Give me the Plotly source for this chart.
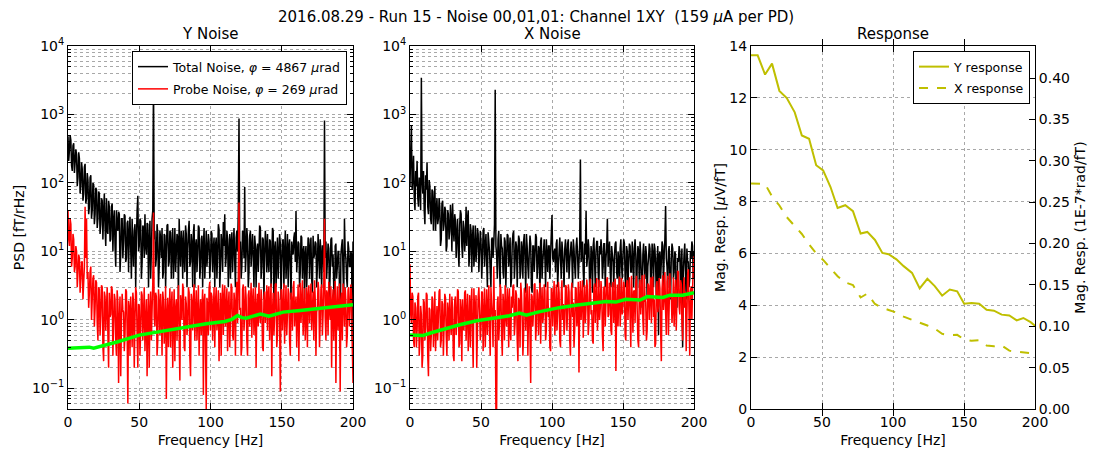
import plotly.graph_objects as go

# ---------------- data ----------------
# spectra sampled every 0.5 Hz, 0 .. 200 Hz
freq = [k / 2 for k in range(401)]

y_total = [
    480, 210, 300, 500, 420, 180, 150, 350, 380, 140, 200, 310, 260, 90, 120, 280, 230, 70, 90, 200,
    160, 55, 70, 170, 190, 50, 60, 140, 110, 35, 45, 120, 130, 30, 40, 100, 95, 25, 35, 85,
    80, 22, 30, 75, 70, 18, 25, 60, 55, 15, 40, 70, 22, 12, 60, 20, 18, 55, 45, 14,
    15, 45, 50, 10, 28, 40, 12, 6, 40, 25, 20, 38, 35, 5, 9, 30, 30, 8, 14, 35,
    33, 7, 8, 26, 28, 5, 18, 32, 11, 4, 30, 12, 6, 20, 25, 3, 15, 40, 65, 10,
    12, 30, 28, 4, 7, 24, 22, 8, 35, 12, 9, 26, 25, 3, 14, 28, 4, 10, 30, 40,
    3500, 15, 20, 6, 8, 25, 18, 3, 6, 20, 15, 8, 22, 4, 5, 18, 17, 3, 10, 24,
    25, 6, 7, 20, 19, 4, 12, 22, 4, 9, 22, 5, 9, 18, 16, 2, 30, 12, 6, 20,
    14, 4, 20, 9, 5, 24, 18, 3, 11, 20, 28, 6, 7, 18, 13, 3, 19, 25, 3, 12,
    15, 5, 9, 24, 22, 4, 6, 15, 17, 3, 12, 22, 4, 8, 20, 6, 10, 18, 14, 4,
    7, 20, 18, 5, 11, 16, 3, 12, 16, 4, 9, 25, 21, 3, 6, 18, 13, 5, 27, 12,
    35, 6, 8, 20, 15, 3, 10, 18, 4, 14, 19, 5, 12, 22, 7, 3, 16, 20, 10, 40,
    870, 12, 14, 4, 6, 20, 18, 8, 87, 5, 9, 22, 15, 3, 5, 17, 20, 6, 11, 18,
    8, 3, 17, 12, 3, 10, 13, 5, 10, 24, 22, 4, 6, 16, 15, 2, 9, 20, 12, 5,
    18, 7, 5, 15, 14, 3, 8, 22, 20, 1.5, 11, 14, 3, 8, 16, 4, 9, 18, 13, 2,
    7, 14, 15, 3, 10, 20, 4, 8, 18, 3, 12, 15, 6, 2, 14, 10, 9, 16, 19, 7,
    39, 5, 8, 14, 13, 3, 5, 17, 16, 4, 10, 12, 2, 9, 12, 3, 7, 16, 15, 4,
    11, 16, 4, 2.5, 17, 8, 9, 14, 13, 3, 6, 18, 10, 4, 15, 9, 3, 12, 12, 5,
    815, 8, 14, 4, 7, 13, 11, 2, 5, 15, 16, 6, 9, 3, 0.8, 12, 13, 4, 6, 10,
    10, 3, 0.35, 9, 12, 15, 5, 2, 30, 10, 8, 4, 3, 14, 11, 6, 6, 10, 9, 0.5,
    14]

y_probe = [
    40, 15, 12, 30, 25, 6, 8, 18, 15, 5, 6, 12, 10, 3, 5, 9, 8, 2.5, 4, 7,
    7, 2, 3.5, 6, 45, 8, 30, 4, 5, 1.5, 2.5, 5, 6, 1, 2, 4, 4.5, 0.8, 1.5, 3.8,
    3.5, 0.9, 0.5, 3, 2.8, 0.6, 1.2, 3.2, 3, 0.4, 0.25, 2.6, 2.2, 0.7, 1.5, 3, 0.6, 0.2, 2.5, 1.1,
    1.2, 3.1, 2.8, 0.3, 0.8, 2.4, 2, 0.5, 0.3, 2.7, 1.8, 0.12, 1, 2.2, 0.15, 0.9, 2.4, 1.4, 1.3, 0.35,
    0.6, 2.8, 2.6, 0.7, 0.06, 1.9, 1.5, 0.3, 2.2, 1.1, 0.4, 2.5, 1.8, 0.2, 1, 3, 2.5, 0.6, 0.2, 1.7,
    1.6, 0.3, 0.7, 2.6, 2.3, 0.5, 1.2, 3, 0.35, 0.9, 2, 0.15, 1, 2.4, 0.2, 1.3, 2.6, 0.5, 1.4, 3.5,
    37, 1.1, 0.8, 2.5, 2.2, 0.3, 0.5, 2.8, 1.7, 0.6, 2.4, 1.2, 0.3, 2.6, 1.9, 0.45, 0.9, 3.1, 0.07, 1.2,
    2.1, 0.4, 1.3, 2.9, 0.4, 1.6, 2.6, 0.2, 1.1, 2.8, 0.25, 1.4, 2, 0.5, 1.5, 3.2, 0.6, 0.13, 2.3, 1.7,
    1, 3.4, 2.8, 0.4, 0.35, 2.2, 1.7, 0.6, 0.9, 3, 2.5, 0.3, 0.15, 2.4, 1.8, 0.7, 2.2, 3.3, 0.5, 1.3,
    2.7, 0.5, 1.2, 3.2, 0.3, 1.1, 2, 0.6, 1.5, 2.8, 0.08, 1.9, 2.4, 0.4, 0.05, 2.1, 1.6, 0.6, 2.9, 3.6,
    0.7, 2.5, 2.2, 0.5, 1.3, 3, 0.4, 1.8, 3, 0.7, 1.1, 2.7, 0.25, 0.9, 2.5, 0.3, 1.7, 3.3, 0.6, 2.1,
    3.2, 0.8, 1.4, 2.9, 0.35, 1.6, 2.6, 0.4, 1, 3.4, 2.9, 0.6, 0.5, 2.5, 1.8, 0.3, 2.4, 3.6, 0.9, 4,
    52, 1.4, 1.5, 0.3, 0.4, 2.8, 3.3, 0.7, 1.2, 3.1, 2.1, 0.5, 0.3, 2.3, 2.7, 0.8, 1.6, 3.5, 0.55, 1.9,
    2.9, 0.6, 1.3, 3, 0.2, 1.5, 2.4, 0.8, 3.5, 1.2, 0.9, 2.8, 1.8, 0.4, 0.35, 2.2, 2.6, 0.9, 1.4, 3.2,
    0.7, 2.4, 3.1, 0.5, 1.6, 3.4, 0.15, 1.3, 2.5, 0.6, 1.1, 3.3, 3.4, 0.4, 0.6, 2.6, 2, 0.8, 0.09, 2.7,
    2.8, 0.7, 1.5, 3.4, 0.45, 1.3, 3.2, 0.6, 1.2, 2.9, 2.4, 0.5, 0.3, 2.5, 1.9, 0.7, 3, 3.7, 0.8, 1.5,
    2.2, 0.4, 1.4, 3.3, 0.25, 1.6, 3.5, 0.9, 1.7, 3.8, 0.6, 1.2, 2.9, 0.5, 1.1, 3, 0.4, 2.2, 3.2, 0.9,
    1.8, 3.4, 0.7, 1.4, 2.6, 0.5, 3.8, 2, 0.3, 1.3, 1.5, 3.6, 2.7, 0.4, 0.9, 2.8, 3.3, 0.6, 1.2, 3.5,
    30, 1.1, 0.5, 2.7, 2.4, 0.6, 3.6, 1.4, 1, 3.1, 0.2, 1.7, 2.8, 0.5, 1.6, 3.7, 0.12, 1.5, 3.1, 0.7,
    1.3, 3.4, 0.09, 1.8, 2.5, 0.5, 3.4, 2.2, 0.8, 3, 1.9, 0.4, 0.6, 2.7, 3, 0.8, 1.4, 3.3, 2.2, 0.4,
    0.12]

x_total = [
    90, 300, 700, 80, 120, 250, 60, 40, 150, 90, 210, 60, 45, 120, 100, 40, 3450, 110, 70, 150,
    40, 25, 130, 80, 200, 45, 35, 110, 90, 30, 25, 80, 75, 20, 50, 90, 20, 40, 60, 25,
    30, 60, 45, 12, 15, 50, 55, 20, 25, 45, 40, 10, 12, 40, 35, 15, 20, 48, 30, 10,
    50, 22, 14, 35, 28, 8, 18, 30, 10, 6, 25, 40, 35, 12, 8, 28, 22, 10, 15, 45,
    12, 30, 40, 6, 9, 25, 20, 5, 16, 24, 6, 10, 24, 7, 11, 22, 18, 5, 10, 20,
    14, 4, 8, 20, 22, 6, 12, 18, 7, 3, 19, 14, 10, 5, 3, 15, 16, 8, 13, 25,
    2300, 12, 9, 4, 15, 20, 6, 3, 18, 12, 11, 5, 4, 16, 14, 3, 8, 18, 17, 6,
    10, 16, 3, 4, 13, 18, 20, 4, 7, 14, 12, 3, 9, 17, 15, 4, 5, 14, 11, 4,
    14, 18, 8, 2.5, 18, 12, 6, 4, 10, 17, 13, 3, 2.5, 12, 12, 5, 9, 18, 16, 4,
    6, 12, 11, 2, 14, 16, 4, 7, 10, 15, 8, 3, 15, 9, 5, 12, 12, 4, 9, 18,
    34, 8, 7, 10, 11, 5, 13, 15, 3, 6, 10, 16, 8, 4, 14, 10, 6, 3, 11, 15,
    9, 5, 13, 15, 4, 7, 10, 14, 8, 3, 15, 11, 6, 4, 12, 16, 9, 4, 7, 13,
    220, 7, 10, 14, 5, 3, 13, 9, 39, 6, 8, 15, 11, 3, 4, 12, 9, 2.5, 12, 16,
    7, 3, 10, 14, 14, 5, 3, 12, 9, 15, 11, 4, 6, 13, 13, 3, 8, 11, 30, 6,
    10, 14, 5, 3, 12, 9, 7, 3, 9, 13, 14, 5, 4, 10, 8, 2, 11, 15, 6, 4,
    9, 15, 13, 4, 3, 12, 10, 3, 7, 13, 12, 5, 5, 14, 8, 3, 11, 15, 9, 2,
    6, 12, 10, 3, 14, 9, 4, 1.5, 9, 13, 7, 4, 12, 9, 2, 6, 8, 13, 11, 3,
    5, 13, 9, 3, 13, 11, 6, 2, 8, 12, 0.6, 9, 10, 4, 7, 14, 12, 3, 9, 15,
    46, 8, 6, 3, 10, 12, 4, 2, 8, 13, 11, 4, 5, 10, 9, 2, 1.5, 8, 7, 12,
    10, 3, 6, 11, 0.4, 5, 9, 13, 5, 2, 11, 7, 7, 3, 4, 10, 8, 14, 12, 4,
    10]

x_probe = [
    6.5, 1.2, 0.9, 2.5, 2.2, 0.5, 0.4, 1.8, 1.5, 0.4, 0.7, 2.2, 2.5, 0.3, 0.5, 1.6, 1.2, 0.2, 0.3, 2,
    1.8, 0.5, 0.8, 2.5, 2.3, 0.3, 0.15, 1.5, 1.4, 0.35, 0.6, 2.2, 2, 0.4, 0.9, 2.6, 0.35, 0.8, 1.6, 0.5,
    1.1, 2.6, 2.8, 0.4, 0.5, 1.9, 1.7, 0.3, 0.8, 2.4, 2.1, 0.6, 0.3, 1.8, 1.3, 0.5, 2.4, 0.9, 0.6, 2.2,
    1.5, 0.3, 0.25, 1.9, 2.2, 0.6, 1, 2.8, 2.6, 0.4, 0.45, 2, 1.4, 0.25, 2, 0.8, 0.7, 2.5, 2.7, 0.5,
    1.2, 2.4, 0.35, 0.9, 2.3, 0.4, 1.6, 2.9, 0.6, 0.2, 2.9, 1.3, 1, 2.3, 0.2, 0.7, 2.1, 3, 1.4, 0.5,
    0.8, 2.6, 2.5, 0.35, 1.2, 2.9, 0.4, 1.1, 2.8, 0.6, 1.5, 3.2, 0.7, 0.3, 3, 1.7, 1.1, 0.4, 6, 1,
    1.4, 0.05, 0.05, 1.8, 2.2, 0.5, 0.9, 3.3, 2.7, 0.6, 0.3, 2.4, 1.6, 0.5, 3.2, 1.2, 0.8, 2.9, 1.9, 0.4,
    2.9, 0.7, 0.5, 2.2, 1.5, 3.1, 3.3, 0.6, 0.9, 2.7, 2.3, 0.5, 0.25, 2.1, 1.8, 0.4, 3.5, 2.4, 1.1, 0.3,
    0.6, 2.9, 2.6, 0.7, 1.7, 3.4, 0.3, 1.3, 3.1, 0.6, 0.12, 2.4, 2.2, 0.8, 1.4, 3.3, 3.4, 0.5, 0.8, 2.8,
    2.4, 0.6, 1.6, 3.5, 0.45, 1.4, 3, 0.9, 1.2, 3.3, 2.7, 0.5, 0.7, 2.6, 3.6, 1.1, 1.5, 0.4, 0.35, 2.9,
    2.8, 0.8, 1.9, 3.7, 0.6, 1.2, 3.3, 0.7, 1.3, 3.6, 2.5, 0.5, 0.4, 2.4, 3.8, 1, 1.7, 0.6, 0.9, 3.2,
    3.1, 0.7, 1.4, 3.3, 2.6, 0.5, 0.3, 2.5, 3.5, 1.1, 1.8, 0.4, 0.75, 3, 2.9, 0.8, 1.2, 3.6, 0.17, 2,
    3.7, 1, 2, 3.8, 0.55, 1.4, 3.2, 0.9, 1.6, 3.9, 2.8, 0.6, 0.9, 3.3, 4, 1.2, 1.4, 0.5, 0.45, 3,
    3.4, 0.9, 2.1, 4.1, 0.7, 1.3, 3.9, 1, 1.5, 3.7, 2.6, 0.6, 0.35, 2.9, 3.1, 0.8, 1.8, 3.8, 4.2, 1.1,
    1.2, 3.5, 2.9, 0.7, 0.6, 3.1, 3.6, 0.9, 1.9, 4, 0.18, 1.4, 3.3, 0.8, 2.2, 4.3, 0.8, 1.5, 4.1, 1.2,
    1.7, 3.6, 3, 0.6, 0.5, 3.3, 3.8, 1, 2.3, 4.2, 1.1, 0.4, 4.4, 2, 0.65, 2.6, 2.7, 0.9, 3.5, 4.4,
    1.4, 0.5, 0.4, 3.1, 3.9, 1.2, 2.5, 4.5, 1, 0.6, 4.6, 2.1, 1.8, 0.5, 0.7, 3.4, 3.2, 1, 2.6, 4.2,
    0.9, 3.8, 4.3, 1.1, 2, 0.4, 0.45, 3.2, 3.7, 1.3, 1.6, 4.1, 2.9, 0.7, 0.25, 2.8, 4.5, 1.4, 2.2, 5,
    1.3, 0.6, 3.6, 4.4, 0.6, 1.5, 4.8, 2.1, 2.4, 0.9, 1.5, 4.2, 0.8, 1.9, 3.9, 0.7, 2.1, 5.2, 5, 1.6,
    1.2, 3.8, 3.4, 0.9, 0.5, 2.7, 4.2, 1.5, 2.6, 0.35, 1.1, 4.5, 5.5, 1.2, 0.3, 2.6, 3.1, 1, 2.8, 5.8,
    8.5]

y_smooth_f = [0, 10, 15, 18, 25, 35, 50, 65, 78, 90, 97, 110, 115, 119, 122,
              125, 130, 135, 141, 151, 163, 177, 186, 200]
y_smooth = [0.385, 0.39, 0.40, 0.385, 0.42, 0.48, 0.60, 0.68, 0.76, 0.82, 0.88,
            0.95, 1.02, 1.16, 1.08, 1.06, 1.12, 1.22, 1.13, 1.30, 1.37, 1.48,
            1.53, 1.66]

x_smooth_f = [0, 5, 9, 15, 23, 35, 47, 60, 70, 77, 82, 90, 105, 118, 129, 138,
              145, 152, 162, 167, 178, 183, 192, 200]
x_smooth = [0.60, 0.60, 0.59, 0.65, 0.73, 0.85, 0.97, 1.07, 1.15, 1.26, 1.17,
            1.30, 1.51, 1.65, 1.78, 1.85, 1.82, 2.00, 1.95, 2.19, 2.13, 2.30,
            2.30, 2.50]

resp_f = [0, 4.7, 9.9, 14.8, 20, 25.2, 30.8, 35.8, 40.9, 45.9, 50.8, 56, 61,
          66.4, 71.8, 77.2, 81.9, 87.3, 92.5, 96.9, 102.4, 107.5, 113.4, 118.8,
          124.2, 129.4, 134.6, 140, 145.2, 150.1, 155.3, 160.7, 165.9, 171.1,
          176.5, 181.9, 187.1, 191.8, 196.9, 200]
y_resp = [13.64, 13.64, 12.9, 13.32, 12.27, 11.99, 11.44, 10.55, 10.42, 9.4,
          9.2, 8.56, 7.75, 7.86, 7.63, 6.77, 6.83, 6.52, 6.02, 5.97, 5.77,
          5.51, 5.25, 4.65, 5.02, 4.74, 4.37, 4.61, 4.54, 4.06, 4.09, 4.06,
          3.83, 3.79, 3.64, 3.61, 3.42, 3.51, 3.35, 3.21]
x_resp = [8.70, 8.70, 8.68, 8.2, 7.85, 7.4, 7.05, 6.75, 6.35, 6.0, 5.75, 5.45,
          5.12, 4.88, 4.78, 4.3, 4.45, 4.05, 3.9, 3.82, 3.72, 3.56, 3.45, 3.33,
          3.22, 3.1, 2.9, 2.85, 2.86, 2.68, 2.63, 2.65, 2.45, 2.42, 2.45, 2.25,
          2.22, 2.2, 2.15, 2.03]

assert len(y_total) == len(freq) and len(y_probe) == len(freq)
assert len(x_total) == len(freq) and len(x_probe) == len(freq)

log_ticks = [0.1, 1, 10, 100, 1000, 10000]
log_text = ["10<sup>\u22121</sup>", "10<sup>0</sup>", "10<sup>1</sup>",
            "10<sup>2</sup>", "10<sup>3</sup>", "10<sup>4</sup>"]
f_ticks = [0, 50, 100, 150, 200]
left_ticks = [0, 2, 4, 6, 8, 10, 12, 14]
right_ticks = [0.0, 0.05, 0.10, 0.15, 0.20, 0.25, 0.30, 0.35, 0.40]
right_max = 0.4389

# ---------------- figure ----------------
W, H = 1096, 455
FONT = "DejaVu Sans"
GRID = "#a8a8a8"
YEL = "#bfbf00"
NOISE_W = 1.5


def px(v):
    return v / W


def py(v):
    return 1 - v / H


def noise_line(color):
    return dict(color=color, width=NOISE_W, simplify=False)


fig = go.Figure()

# Y noise panel
fig.add_trace(go.Scatter(x=freq, y=y_total, mode="lines", line=noise_line("black"),
                         name="Total Noise, <i>\u03c6</i> = 4867 <i>\u03bc</i>rad",
                         legendgroup="a", xaxis="x", yaxis="y", legend="legend"))
fig.add_trace(go.Scatter(x=freq, y=y_probe, mode="lines", line=noise_line("#ff0000"),
                         name="Probe Noise, <i>\u03c6</i> = 269 <i>\u03bc</i>rad",
                         legendgroup="b", xaxis="x", yaxis="y", legend="legend"))
fig.add_trace(go.Scatter(x=y_smooth_f, y=y_smooth, mode="lines", line=dict(color="#00ff00", width=3.5),
                         showlegend=False, xaxis="x", yaxis="y"))

# X noise panel
fig.add_trace(go.Scatter(x=freq, y=x_total, mode="lines", line=noise_line("black"),
                         showlegend=False, xaxis="x2", yaxis="y2"))
fig.add_trace(go.Scatter(x=freq, y=x_probe, mode="lines", line=noise_line("#ff0000"),
                         showlegend=False, xaxis="x2", yaxis="y2"))
fig.add_trace(go.Scatter(x=x_smooth_f, y=x_smooth, mode="lines", line=dict(color="#00ff00", width=3.5),
                         showlegend=False, xaxis="x2", yaxis="y2"))

# Response panel
fig.add_trace(go.Scatter(x=resp_f, y=y_resp, mode="lines", line=dict(color=YEL, width=2),
                         name="Y response", legendgroup="c", xaxis="x3", yaxis="y3", legend="legend2"))
fig.add_trace(go.Scatter(x=resp_f, y=x_resp, mode="lines", line=dict(color=YEL, width=2, dash="dash"),
                         name="X response", legendgroup="d", xaxis="x3", yaxis="y3", legend="legend2"))
# invisible carrier so the right-hand axis is drawn
fig.add_trace(go.Scatter(x=resp_f[:1], y=[right_max], mode="lines", opacity=0,
                         showlegend=False, hoverinfo="skip", xaxis="x3", yaxis="y4"))

ydom = [py(409), py(46)]
tickfont = dict(family=FONT, size=14, color="black")
titlefont = dict(family=FONT, size=14, color="black")


def xax(l, r, anchor):
    return dict(domain=[px(l), px(r)], anchor=anchor, range=[0, 200], automargin=False,
                tickvals=f_ticks, ticks="inside", ticklen=6, tickcolor="black",
                showline=True, linecolor="black", linewidth=1, mirror="allticks",
                showgrid=True, gridcolor=GRID, griddash="dot", gridwidth=1,
                zeroline=False, tickfont=tickfont,
                title=dict(text="Frequency [Hz]", font=titlefont, standoff=6))


def logax(anchor, title=None):
    d = dict(domain=ydom, anchor=anchor, type="log", range=[-1.30103, 4], automargin=False,
             tickvals=log_ticks, ticktext=log_text, ticks="inside", ticklen=6,
             tickcolor="black", showline=True, linecolor="black", linewidth=1,
             mirror="allticks", showgrid=True, gridcolor=GRID, griddash="dot",
             gridwidth=1, zeroline=False, tickfont=tickfont,
             minor=dict(dtick="D1", ticks="inside", ticklen=3, tickcolor="black",
                        showgrid=True, gridcolor=GRID, griddash="dot", gridwidth=1))
    if title:
        d["title"] = dict(text=title, font=titlefont, standoff=4)
    return d


fig.update_layout(
    width=W, height=H,
    margin=dict(l=0, r=0, t=0, b=0, autoexpand=False),
    paper_bgcolor="white", plot_bgcolor="white",
    font=dict(family=FONT, size=13, color="black"),
    xaxis=xax(68, 353, "y"),
    yaxis=logax("x", "PSD [fT/rHz]"),
    xaxis2=xax(410, 694, "y2"),
    yaxis2=logax("x2"),
    xaxis3=xax(751, 1035, "y3"),
    yaxis3=dict(domain=ydom, anchor="x3", range=[0, 14], tickvals=left_ticks, automargin=False,
                ticks="inside", ticklen=6, tickcolor="black", showline=True,
                linecolor="black", linewidth=1, mirror=False, showgrid=True,
                gridcolor=GRID, griddash="dot", gridwidth=1, zeroline=False,
                tickfont=tickfont,
                title=dict(text="Mag. Resp. [<i>\u03bc</i>V/fT]", font=titlefont, standoff=0)),
    yaxis4=dict(domain=ydom, anchor="x3", overlaying="y3", side="right", automargin=False,
                range=[0, right_max], tickvals=right_ticks, tickformat=".2f",
                ticks="inside", ticklen=6, tickcolor="black", showline=True,
                linecolor="black", linewidth=1, showgrid=False, zeroline=False,
                tickfont=tickfont,
                title=dict(text="Mag. Resp. (1E-7*rad/fT)", font=titlefont, standoff=6)),
    legend=dict(x=px(347), y=py(51), xanchor="right", yanchor="top",
                bgcolor="white", bordercolor="black", borderwidth=1,
                font=dict(family=FONT, size=12.5, color="black"), tracegroupgap=3,
                traceorder="grouped"),
    legend2=dict(x=px(1030), y=py(51), xanchor="right", yanchor="top",
                 bgcolor="white", bordercolor="black", borderwidth=1,
                 font=dict(family=FONT, size=12.5, color="black"), tracegroupgap=2,
                 traceorder="grouped"),
    annotations=[
        dict(text="2016.08.29 - Run 15 - Noise 00,01,01: Channel 1XY  (159 <i>\u03bc</i>A per PD)",
             x=px(536), y=py(17), xref="paper", yref="paper", showarrow=False,
             font=dict(family=FONT, size=15, color="black"), xanchor="center", yanchor="middle"),
        dict(text="Y Noise", x=px(210.5), y=py(34), xref="paper", yref="paper", showarrow=False,
             font=dict(family=FONT, size=15, color="black"), xanchor="center", yanchor="middle"),
        dict(text="X Noise", x=px(552), y=py(34), xref="paper", yref="paper", showarrow=False,
             font=dict(family=FONT, size=15, color="black"), xanchor="center", yanchor="middle"),
        dict(text="Response", x=px(893), y=py(34), xref="paper", yref="paper", showarrow=False,
             font=dict(family=FONT, size=15, color="black"), xanchor="center", yanchor="middle"),
    ],
)

fig.write_html("out.html", config={"displayModeBar": False},
               post_script="document.body.style.margin='0px';")
